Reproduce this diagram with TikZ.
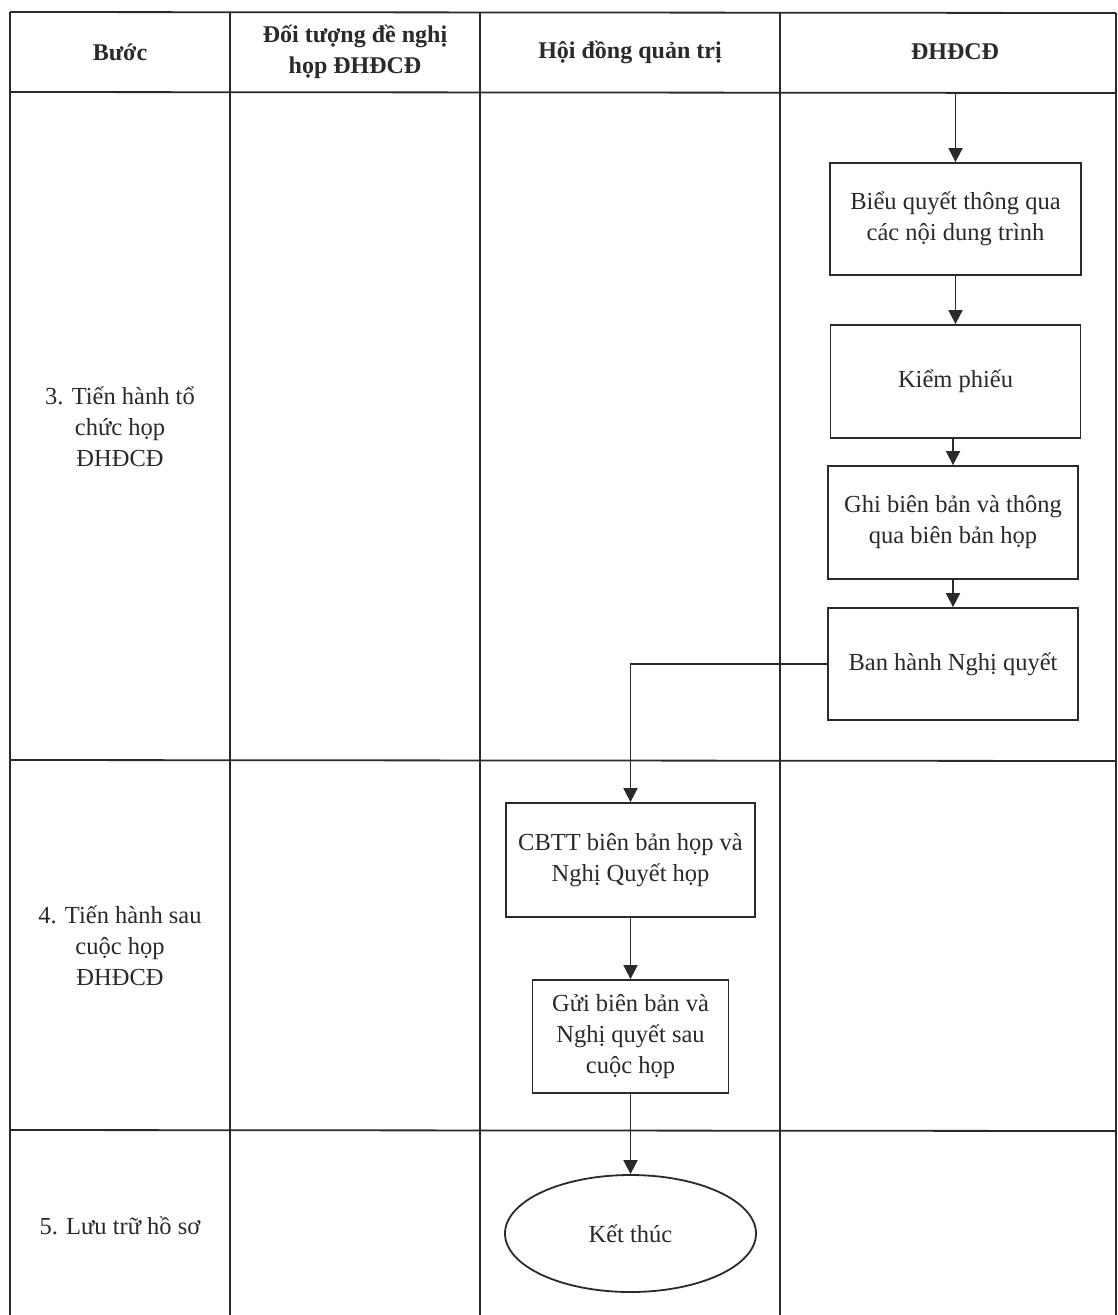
\documentclass[tikz,border=0pt]{standalone}
\usepackage{fontspec}
\setmainfont{Liberation Serif}
\usetikzlibrary{arrows.meta,shapes.geometric}
\definecolor{ink}{HTML}{2A2A2A}
\tikzset{
  grid/.style={draw=ink,line width=1.8pt},
  txt/.style={text=ink,align=center,font=\fontsize{24.5}{31}\selectfont},
  head/.style={text=ink,align=center,font=\fontsize{24}{31}\selectfont\bfseries},
  box/.style={draw=ink,line width=1.8pt,rectangle,inner sep=2pt,txt},
  endshape/.style={draw=ink,line width=1.8pt,ellipse,inner sep=0pt,txt},
  flow/.style={draw=ink,line width=1.8pt,-{Triangle[width=14pt,length=14pt]}},
}
\begin{document}
\begin{tikzpicture}[x=1pt,y=-1pt]
\useasboundingbox (0,0) rectangle (1117,1315);
\fill[white] (0,0) rectangle (1117,1315);
% table grid
\draw[grid] (10,12) -- (1116,13);
\draw[grid] (10,92) -- (1116,93);
\draw[grid] (10,760) -- (1116,761);
\draw[grid] (10,1130) -- (1116,1131);
\draw[grid] (10,12) -- (10,1315);
\draw[grid] (230,12) -- (230,1315);
\draw[grid] (480,12) -- (480,1315);
\draw[grid] (780,12) -- (780,1315);
\draw[grid] (1116,13) -- (1116,1315);
% header
\node[head] (h1) at (120,52) {Bước};
\node[head] (h2) at (355,52) {Đối tượng đề nghị\\họp ĐHĐCĐ};
\node[head] (h3) at (630,52) {Hội đồng quản trị};
\node[head] (h4) at (955,52) {ĐHĐCĐ};
% steps
\node[txt] (s3) at (120,427) {3. Tiến hành tổ\\chức họp\\ĐHĐCĐ};
\node[txt] (s4) at (120,946) {4. Tiến hành sau\\cuộc họp\\ĐHĐCĐ};
\node[txt] (s5) at (120,1226) {5. Lưu trữ hồ sơ};
% boxes
\coordinate (top) at (955.5,93);
\node[box,minimum width=251pt,minimum height=112pt] (b1) at (955.5,219) {Biểu quyết thông qua\\các nội dung trình};
\node[box,minimum width=250pt,minimum height=113pt] (b2) at (955.5,381.5) {Kiểm phiếu};
\node[box,minimum width=250pt,minimum height=113pt] (b3) at (953,522.5) {Ghi biên bản và thông\\qua biên bản họp};
\node[box,minimum width=250pt,minimum height=112pt] (b4) at (953,664) {Ban hành Nghị quyết};
\node[box,minimum width=249pt,minimum height=114pt] (b5) at (630.5,860) {CBTT biên bản họp và\\Nghị Quyết họp};
\node[box,minimum width=196pt,minimum height=113pt] (b6) at (630.5,1036.5) {Gửi biên bản và\\Nghị quyết sau\\cuộc họp};
\node[endshape,minimum width=251pt,minimum height=117pt] (e) at (630.5,1233.5) {Kết thúc};
% connectors
\draw[flow] (top) -- (b1.north);
\draw[flow] (b1.south) -- (b2.north);
\draw[flow] (b3.north |- b2.south) -- (b3.north);
\draw[flow] (b3.south) -- (b4.north);
\draw[flow] (b4.west) -| (b5.north);
\draw[flow] (b5.south) -- (b6.north);
\draw[flow] (b6.south) -- (e.north);
\end{tikzpicture}
\end{document}
